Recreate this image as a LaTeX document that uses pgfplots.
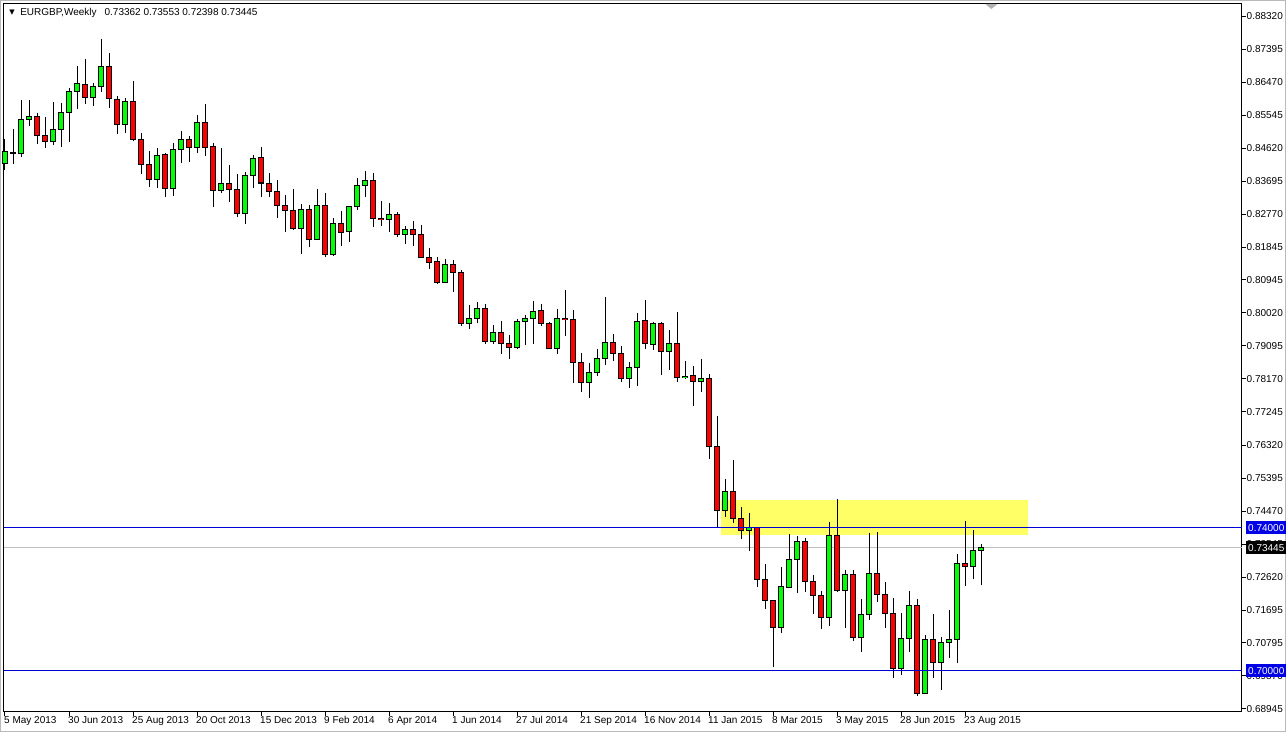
\documentclass[border=0pt]{standalone}
\usepackage{fontspec}
\setmainfont{Liberation Sans}
\newfontfamily\dejavu{DejaVu Sans}
\usepackage{pgfplots}
\usepackage{pgfplotstable}
\pgfplotsset{compat=1.18}
\definecolor{mtgreen}{RGB}{0,255,0}
\definecolor{mtred}{RGB}{255,0,0}
\definecolor{mtblue}{RGB}{0,0,210}
\definecolor{mtbox}{RGB}{0,0,230}
\definecolor{mtyellow}{RGB}{255,255,102}
\definecolor{mtgray}{RGB}{192,192,192}
\newcommand\mt{\fontsize{10}{12}\selectfont}

\pgfplotstableread{
i o h l c
0 0.8421 0.8488 0.8401 0.8452
1 0.8448 0.8516 0.8418 0.8450
2 0.8449 0.8597 0.8438 0.8544
3 0.8544 0.8597 0.8524 0.8552
4 0.8552 0.8561 0.8474 0.8499
5 0.8499 0.8550 0.8463 0.8482
6 0.8482 0.8592 0.8471 0.8516
7 0.8516 0.8589 0.8466 0.8561
8 0.8561 0.8631 0.8480 0.8620
9 0.8620 0.8692 0.8572 0.8642
10 0.8642 0.8712 0.8586 0.8603
11 0.8605 0.8645 0.8580 0.8634
12 0.8634 0.8768 0.8620 0.8692
13 0.8692 0.8729 0.8575 0.8600
14 0.8600 0.8608 0.8502 0.8530
15 0.8530 0.8603 0.8505 0.8594
16 0.8594 0.8650 0.8482 0.8488
17 0.8488 0.8505 0.8390 0.8418
18 0.8418 0.8454 0.8354 0.8376
19 0.8376 0.8463 0.8351 0.8443
20 0.8446 0.8449 0.8326 0.8351
21 0.8351 0.8477 0.8329 0.8460
22 0.8460 0.8510 0.8421 0.8488
23 0.8488 0.8496 0.8424 0.8463
24 0.8463 0.8555 0.8449 0.8533
25 0.8533 0.8586 0.8440 0.8463
26 0.8466 0.8477 0.8298 0.8343
27 0.8343 0.8463 0.8337 0.8365
28 0.8365 0.8415 0.8312 0.8348
29 0.8348 0.8390 0.8270 0.8281
30 0.8281 0.8396 0.8250 0.8385
31 0.8385 0.8443 0.8351 0.8435
32 0.8435 0.8466 0.8326 0.8365
33 0.8365 0.8393 0.8326 0.8340
34 0.8340 0.8373 0.8267 0.8303
35 0.8303 0.8331 0.8228 0.8289
36 0.8289 0.8348 0.8234 0.8239
37 0.8239 0.8306 0.8166 0.8292
38 0.8292 0.8303 0.8186 0.8208
39 0.8208 0.8348 0.8206 0.8301
40 0.8301 0.8337 0.8158 0.8166
41 0.8164 0.8267 0.8161 0.8253
42 0.8253 0.8287 0.8189 0.8228
43 0.8228 0.8301 0.8200 0.8298
44 0.8298 0.8379 0.8289 0.8359
45 0.8359 0.8399 0.8326 0.8371
46 0.8371 0.8393 0.8242 0.8267
47 0.8267 0.8315 0.8245 0.8264
48 0.8264 0.8309 0.8228 0.8278
49 0.8278 0.8284 0.8214 0.8222
50 0.8222 0.8245 0.8194 0.8234
51 0.8234 0.8259 0.8189 0.8222
52 0.8222 0.8248 0.8156 0.8158
53 0.8158 0.8183 0.8124 0.8144
54 0.8146 0.8158 0.8082 0.8088
55 0.8088 0.8152 0.8085 0.8138
56 0.8138 0.8150 0.8060 0.8116
57 0.8116 0.8122 0.7965 0.7971
58 0.7971 0.8024 0.7957 0.7985
59 0.7985 0.8032 0.7973 0.8013
60 0.8013 0.8027 0.7915 0.7923
61 0.7923 0.7968 0.7915 0.7948
62 0.7948 0.7979 0.7887 0.7915
63 0.7915 0.7940 0.7873 0.7906
64 0.7906 0.7985 0.7901 0.7979
65 0.7979 0.7996 0.7912 0.7985
66 0.7985 0.8035 0.7915 0.8007
67 0.8007 0.8027 0.7965 0.7973
68 0.7973 0.7975 0.7901 0.7903
69 0.7903 0.8013 0.7887 0.7985
70 0.7985 0.8066 0.7937 0.7982
71 0.7982 0.8010 0.7806 0.7862
72 0.7862 0.7890 0.7780 0.7808
73 0.7808 0.7862 0.7764 0.7834
74 0.7834 0.7901 0.7825 0.7873
75 0.7873 0.8046 0.7856 0.7920
76 0.7920 0.7943 0.7867 0.7887
77 0.7887 0.7909 0.7808 0.7817
78 0.7817 0.7864 0.7792 0.7848
79 0.7848 0.8001 0.7797 0.7979
80 0.7979 0.8038 0.7901 0.7915
81 0.7912 0.7976 0.7898 0.7973
82 0.7973 0.7976 0.7828 0.7895
83 0.7895 0.7954 0.7842 0.7915
84 0.7915 0.8004 0.7808 0.7822
85 0.7822 0.7867 0.7817 0.7825
86 0.7828 0.7853 0.7741 0.7811
87 0.7811 0.7873 0.7780 0.7817
88 0.7817 0.7831 0.7593 0.7629
89 0.7629 0.7713 0.7400 0.7448
90 0.7448 0.7537 0.7431 0.7501
91 0.7501 0.7590 0.7414 0.7428
92 0.7428 0.7459 0.7369 0.7394
93 0.7394 0.7442 0.7336 0.7400
94 0.7400 0.7402 0.7235 0.7257
95 0.7257 0.7299 0.7173 0.7196
96 0.7196 0.7198 0.7011 0.7123
97 0.7123 0.7291 0.7106 0.7235
98 0.7235 0.7383 0.7232 0.7313
99 0.7313 0.7378 0.7218 0.7361
100 0.7361 0.7372 0.7221 0.7249
101 0.7249 0.7269 0.7159 0.7210
102 0.7210 0.7224 0.7118 0.7151
103 0.7151 0.7417 0.7126 0.7380
104 0.7380 0.7481 0.7221 0.7224
105 0.7224 0.7283 0.7120 0.7269
106 0.7269 0.7283 0.7084 0.7095
107 0.7095 0.7201 0.7053 0.7159
108 0.7159 0.7386 0.7143 0.7274
109 0.7274 0.7389 0.7193 0.7215
110 0.7215 0.7249 0.7120 0.7162
111 0.7162 0.7204 0.6980 0.7006
112 0.7006 0.7162 0.6989 0.7092
113 0.7092 0.7224 0.7053 0.7182
114 0.7182 0.7201 0.6930 0.6936
115 0.6938 0.7101 0.6936 0.7087
116 0.7087 0.7159 0.6980 0.7025
117 0.7025 0.7095 0.6947 0.7081
118 0.7081 0.7171 0.7036 0.7087
119 0.7087 0.7327 0.7022 0.7302
120 0.7302 0.7420 0.7238 0.7291
121 0.7291 0.7394 0.7257 0.7336
122 0.73362 0.73553 0.72398 0.73445
}\candles

\begin{document}
\begin{tikzpicture}
\path[use as bounding box] (0pt,0pt) rectangle (1286pt,732pt);
\fill[white] (0pt,0pt) rectangle (1286pt,732pt);
\draw[gray!55, line width=1pt] (0.5pt,0.5pt) rectangle (1285.5pt,731.5pt);
\begin{axis}[
  at={(4pt,20.5pt)}, anchor=south west,
  scale only axis, width=1237.5pt, height=707.5pt,
  xmin=-0.125, xmax=154.5625, ymin=0.68867, ymax=0.88657,
  clip=false,
  axis line style={black, line width=1pt},
  tick align=outside, major tick length=4pt,
  tick style={black, line width=1pt},
  xtick pos=bottom, ytick pos=right,
  yticklabel pos=right,
  xtick={0,8,...,120},
  xticklabels={5 May 2013, 30 Jun 2013, 25 Aug 2013, 20 Oct 2013, 15 Dec 2013, 9 Feb 2014, 6 Apr 2014, 1 Jun 2014, 27 Jul 2014, 21 Sep 2014, 16 Nov 2014, 11 Jan 2015, 8 Mar 2015, 3 May 2015, 28 Jun 2015, 23 Aug 2015},
  ytick={0.88320,0.87395,0.86470,0.85545,0.84620,0.83695,0.82770,0.81845,0.80945,0.80020,0.79095,0.78170,0.77245,0.76320,0.75395,0.74470,0.73545,0.72620,0.71695,0.70795,0.69870,0.68945},
  yticklabels={0.88320,0.87395,0.86470,0.85545,0.84620,0.83695,0.82770,0.81845,0.80945,0.80020,0.79095,0.78170,0.77245,0.76320,0.75395,0.74470,0.73545,0.72620,0.71695,0.70795,0.69870,0.68945},
  x tick label style={anchor=north west, inner sep=0pt, font=\mt, xshift=-1pt, yshift=-1pt},
  y tick label style={anchor=west, inner sep=0pt, font=\mt, xshift=1pt},
]
% support zone
\addplot[fill=mtyellow, draw=none] coordinates {(89.5,0.73804) (127.875,0.73804) (127.875,0.74783) (89.5,0.74783)} -- cycle;
% current price line
\addplot[mtgray, line width=1pt] coordinates {(-0.125,0.73445) (154.5625,0.73445)};
% wicks
\addplot[draw=none, mark=none, error bars/.cd, y dir=plus, y explicit, error mark=none,
  error bar style={line width=1pt, draw=black, solid}]
  table[x=i, y=l, y error expr={\thisrow{h}-\thisrow{l}}] {\candles};
% body outlines
\addplot[draw=none, mark=none, error bars/.cd, y dir=both, y explicit, error mark=none,
  error bar style={line width=6pt, draw=black, solid}]
  table[x=i, y expr={(\thisrow{o}+\thisrow{c})/2}, y error expr={abs(\thisrow{c}-\thisrow{o})/2+0.00014}] {\candles};
% bull bodies
\addplot[draw=none, mark=none, restrict expr to domain={\thisrow{c}-\thisrow{o}}{0:1},
  error bars/.cd, y dir=both, y explicit, error mark=none,
  error bar style={line width=4pt, draw=mtgreen, solid}]
  table[x=i, y expr={(\thisrow{o}+\thisrow{c})/2}, y error expr={max(abs(\thisrow{c}-\thisrow{o})/2-0.00014,0)}] {\candles};
% bear bodies
\addplot[draw=none, mark=none, restrict expr to domain={\thisrow{c}-\thisrow{o}}{-1:0},
  error bars/.cd, y dir=both, y explicit, error mark=none,
  error bar style={line width=4pt, draw=mtred, solid}]
  table[x=i, y expr={(\thisrow{o}+\thisrow{c})/2}, y error expr={max(abs(\thisrow{c}-\thisrow{o})/2-0.00014,0)}] {\candles};
% horizontal levels
\addplot[mtblue, line width=1pt] coordinates {(-0.125,0.74) (154.5625,0.74)};
\addplot[mtblue, line width=1pt] coordinates {(-0.125,0.70) (154.5625,0.70)};
\coordinate (b74) at (axis cs:154.5625,0.74);
\coordinate (b73) at (axis cs:154.5625,0.73445);
\coordinate (b70) at (axis cs:154.5625,0.70);
\coordinate (ttl) at (rel axis cs:0.013,0.9873);
\coordinate (tri) at (rel axis cs:0.0065,0.9873);
\coordinate (mkA) at (rel axis cs:0.793,1);
\coordinate (mkB) at (rel axis cs:0.8027,1);
\coordinate (mkC) at (rel axis cs:0.7979,0.993);
\end{axis}
\fill[gray!60] (mkA) -- (mkB) -- (mkC) -- cycle;
\node[anchor=center, inner sep=0pt, font=\dejavu\fontsize{7}{8}\selectfont] at (tri) {▼};
\node[anchor=west, inner sep=0pt, font=\mt] at (ttl) {EURGBP,Weekly\hspace{8pt}0.73362 0.73553 0.72398 0.73445};
\node[anchor=west, fill=mtbox, text=white, font=\mt, inner xsep=2pt, inner ysep=0pt, minimum height=13pt, xshift=4.5pt] at (b74) {0.74000};
\node[anchor=west, fill=black, text=white, font=\mt, inner xsep=2pt, inner ysep=0pt, minimum height=13pt, xshift=4.5pt] at (b73) {0.73445};
\node[anchor=west, fill=mtbox, text=white, font=\mt, inner xsep=2pt, inner ysep=0pt, minimum height=13pt, xshift=4.5pt] at (b70) {0.70000};
\end{tikzpicture}
\end{document}
